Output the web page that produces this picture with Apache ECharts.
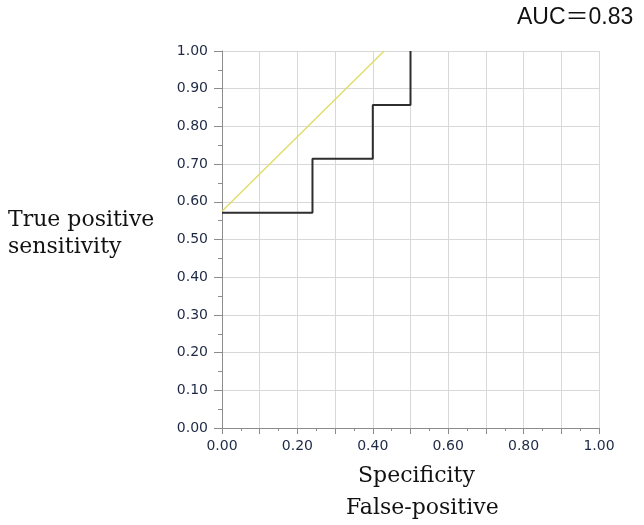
<!DOCTYPE html>
<html>
<head>
<meta charset="UTF-8">
<title>ROC curve</title>
<script src="https://cdn.jsdelivr.net/npm/echarts@6/dist/echarts.min.js"></script>
<style>
	html, body { margin: 0; padding: 0; background: #fff; }
	#rocContainer { width: 644px; height: 525px; }
</style>
</head>
<body>
	<div id='rocContainer'></div>
	<script>
	// ROC step curve (x = 1 - specificity, y = sensitivity)
	var roc_x = [0.00, 0.24, 0.24, 0.40, 0.40, 0.50, 0.50];
	var roc_y = [0.571, 0.571, 0.714, 0.714, 0.857, 0.857, 1.00];
	// pale yellow reference line
	var ref_x = [0.00, 0.43];
	var ref_y = [0.575, 1.00];
	var auc_text = 'AUC\uff1d0.83';

	function pairs(xs, ys){
		var out = [];
		for (var i=0; i<xs.length; i++){
			out.push([xs[i], ys[i]]);
		}
		return out;
	}

	var rocChart = echarts.init(document.getElementById('rocContainer'));

	var tickFont = {
		fontFamily: 'DejaVu Sans',
		fontSize: 14,
		color: '#1e2a44'
	};
	var serif = 'DejaVu Serif';

	var option = {
		animation: false,
		grid: {
			left: 222,
			right: 45,
			top: 51,
			bottom: 97
		},
		graphic: [
			{
				type: 'text',
				left: 517,
				top: 6,
				style: { text: auc_text, font: '23px "Liberation Sans", "Noto Sans CJK JP"', fill: '#111' }
			},
			{
				type: 'text',
				left: 8,
				top: 207,
				style: { text: 'True positive\nsensitivity', font: '22px ' + serif, fill: '#111', lineHeight: 27 }
			},
			{
				type: 'text',
				left: 358,
				top: 465,
				style: { text: 'Specificity', font: '22px ' + serif, fill: '#111' }
			},
			{
				type: 'text',
				left: 346,
				top: 497,
				style: { text: 'False-positive', font: '22px ' + serif, fill: '#111' }
			}
		],
		xAxis: {
			type: 'value',
			min: 0,
			max: 1,
			interval: 0.1,
			axisLine: { lineStyle: { color: '#8c8c8c', width: 1 } },
			axisTick: { show: true, length: 6, lineStyle: { color: '#8c8c8c' } },
			minorTick: { show: true, splitNumber: 2, length: 3, lineStyle: { color: '#8c8c8c' } },
			splitLine: { show: true, lineStyle: { color: '#d8d8d8' } },
			axisLabel: {
				margin: 11,
				fontFamily: tickFont.fontFamily,
				fontSize: tickFont.fontSize,
				color: tickFont.color,
				formatter: function(v){
					var k = Math.round(v*10);
					return (k % 2 === 0) ? v.toFixed(2) : '';
				}
			}
		},
		yAxis: {
			type: 'value',
			min: 0,
			max: 1,
			interval: 0.1,
			axisLine: { show: true, lineStyle: { color: '#8c8c8c', width: 1 } },
			axisTick: { show: true, length: 8, lineStyle: { color: '#8c8c8c' } },
			minorTick: { show: true, splitNumber: 2, length: 4, lineStyle: { color: '#8c8c8c' } },
			splitLine: { show: true, lineStyle: { color: '#d8d8d8' } },
			axisLabel: {
				margin: 14,
				fontFamily: tickFont.fontFamily,
				fontSize: tickFont.fontSize,
				color: tickFont.color,
				formatter: function(v){ return v.toFixed(2); }
			}
		},
		series: [
			{
				name: 'reference',
				type: 'line',
				data: pairs(ref_x, ref_y),
				symbol: 'none',
				lineStyle: { color: '#e0dd6a', width: 1.5 }
			},
			{
				name: 'ROC',
				type: 'line',
				data: pairs(roc_x, roc_y),
				symbol: 'none',
				lineStyle: { color: '#2e2e2e', width: 2 }
			}
		]
	};

	rocChart.setOption(option);
	</script>
</body>
</html>
